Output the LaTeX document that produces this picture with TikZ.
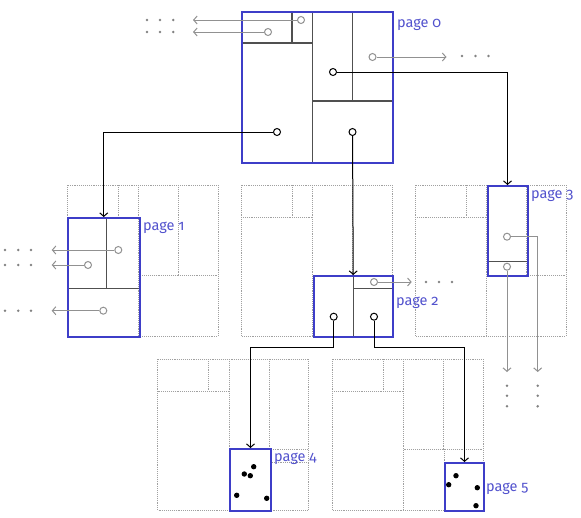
\documentclass[tikz,border=0pt]{standalone}
\usepackage{fontspec}
\setmainfont{Fira Sans}[Numbers=OldStyle]
\usepackage{tikz}
\usetikzlibrary{arrows.meta}

\definecolor{pageblue}{RGB}{62,62,200}
\definecolor{labelblue}{RGB}{82,82,205}
\definecolor{splitgray}{RGB}{80,80,80}
\definecolor{arrowgray}{RGB}{145,145,145}
\definecolor{ghostgray}{RGB}{160,160,160}
\definecolor{dotgray}{RGB}{130,130,130}

\begin{document}
\begin{tikzpicture}[x=1pt, y=-1pt,
  pagebox/.style={draw=pageblue, line width=2pt, inner sep=0pt, anchor=north west},
  pagelabel/.style={text=labelblue, font=\fontsize{14.5}{16}\selectfont, anchor=base west, inner sep=0pt},
  split/.style={draw=splitgray, line width=1.2pt},
  ghost/.style={draw=ghostgray, densely dotted, line width=0.9pt},
  ptr/.style={circle, draw=black, fill=white, inner sep=0pt, minimum size=7pt, line width=1pt},
  gptr/.style={ptr, draw=arrowgray},
  link/.style={-{Straight Barb[length=3.5pt,width=8pt]}, line width=1pt},
  glink/.style={link, draw=arrowgray}]
\useasboundingbox (0,0) rectangle (581,517);

% Dotted copies of the page 0 layout
\foreach \ox/\oy in {67/185, 241/185, 415/185, 157.5/359, 332/359} {
  \begin{scope}[shift={(\ox,\oy)}]
    \draw[ghost] (0,0) rectangle (151,151);
    \draw[ghost] (71.5,0) -- (71.5,151);
    \draw[ghost] (0,32) -- (71.5,32) (51,0) -- (51,32);
    \draw[ghost] (71.5,90) -- (151,90) (111.5,0) -- (111.5,90);
    \ifdim\oy pt>300pt
      \draw[ghost] (112.5,90) -- (112.5,151) (112.5,103) -- (151,103);
    \fi
  \end{scope}
}

% Page 0
\draw[split] (312.5,11) -- (312.5,162);
\draw[split] (241,43) -- (312.5,43) (292,11) -- (292,43);
\draw[split] (312.5,101) -- (392,101) (352.5,11) -- (352.5,101);
\node[pagebox, minimum width=151, minimum height=151] (page0) at (241,11) {};
\node[pagelabel] (label0) at (397,27) {page 0};

% Page 1
\draw[split] (67,288.7) -- (138.5,288.7) (106.7,217) -- (106.7,288.7);
\node[pagebox, minimum width=71.5, minimum height=119] (page1) at (67,217) {};
\node[pagelabel] (label1) at (143,230) {page 1};

% Page 2
\draw[split] (353.5,275) -- (353.5,336) (353.5,288.3) -- (392,288.3);
\node[pagebox, minimum width=79.5, minimum height=61] (page2) at (312.5,275) {};
\node[pagelabel] (label2) at (396,305) {page 2};

% Page 3
\draw[split] (486.5,261.7) -- (526.5,261.7);
\node[pagebox, minimum width=40, minimum height=90] (page3) at (486.5,185) {};
\node[pagelabel] (label3) at (531,198.3) {page 3};

% Page 4 and page 5
\node[pagebox, minimum width=41, minimum height=62] (page4) at (229,448) {};
\node[pagelabel] (label4) at (274,461.7) {page 4};
\node[pagebox, minimum width=39, minimum height=48] (page5) at (444,462) {};
\node[pagelabel] (label5) at (486,491) {page 5};

% Records
\foreach \px/\py in {253.7/466.7, 244.3/474, 250.3/475.7, 236.7/495.3, 266.7/498.3,
                     456/475.7, 448.7/484.7, 477.3/487.7, 476/505.7}
  \fill (\px,\py) circle (2.7);

% Pointers
\node[gptr] (p0a) at (301,20) {};
\node[gptr] (p0b) at (268,32) {};
\node[gptr] (p0c) at (372.5,57) {};
\node[ptr] (p0d) at (333,72) {};
\node[ptr] (p0e) at (277,132) {};
\node[ptr] (p0f) at (352.5,132) {};
\node[gptr] (p1a) at (118.3,250) {};
\node[gptr] (p1b) at (88,265) {};
\node[gptr] (p1c) at (103.3,310.7) {};
\node[gptr] (p2a) at (374,282) {};
\node[ptr] (p2b) at (333.7,316.7) {};
\node[ptr] (p2c) at (374,316.7) {};
\node[gptr] (p3a) at (507,236.7) {};
\node[gptr] (p3b) at (507,266.7) {};

% Free ends and bends
\coordinate (e0a) at (193,20);
\coordinate (e0b) at (193,32);
\coordinate (e0c) at (446.5,57);
\coordinate (e1a) at (51.7,250);
\coordinate (e1b) at (51.7,265);
\coordinate (e1c) at (51.7,310.7);
\coordinate (e2a) at (411.7,282);
\coordinate (e3a) at (537.7,372);
\coordinate (e3b) at (507,372);
\coordinate (bend4) at (333.7,347);
\coordinate (bend5) at (374,347);

% Links to child pages
\draw[link] (p0d) -| (page3.north);
\draw[link] (p0e) -| (page1.north);
\draw[link] (p0f) -- (page2.north);
\draw[link] (p2b) -- (bend4) -| (page4.north);
\draw[link] (p2c) -- (bend5) -| (page5.north);

% Links to pages not shown
\draw[glink] (p0a) -- (e0a);
\draw[glink] (p0b) -- (e0b);
\draw[glink] (p0c) -- (e0c);
\draw[glink] (p1a) -- (e1a);
\draw[glink] (p1b) -- (e1b);
\draw[glink] (p1c) -- (e1c);
\draw[glink] (p2a) -- (e2a);
\draw[glink] (p3a) -| (e3a);
\draw[glink] (p3b) -- (e3b);

% Ellipses
\foreach \dy in {20, 32}
  \foreach \dx in {147, 160, 173.3}
    \fill[dotgray] (\dx,\dy) circle (1.4);
\foreach \dx in {462, 475.5, 488.5}
  \fill[dotgray] (\dx,56) circle (1.4);
\foreach \dy in {250, 265, 310.7}
  \foreach \dx in {5, 18.3, 31}
    \fill[dotgray] (\dx,\dy) circle (1.4);
\foreach \dx in {426, 439, 452}
  \fill[dotgray] (\dx,282) circle (1.4);
\foreach \dx in {507, 537.7}
  \foreach \dy in {385.7, 395.7, 406.3}
    \fill[dotgray] (\dx,\dy) circle (1.4);
\end{tikzpicture}
\end{document}
